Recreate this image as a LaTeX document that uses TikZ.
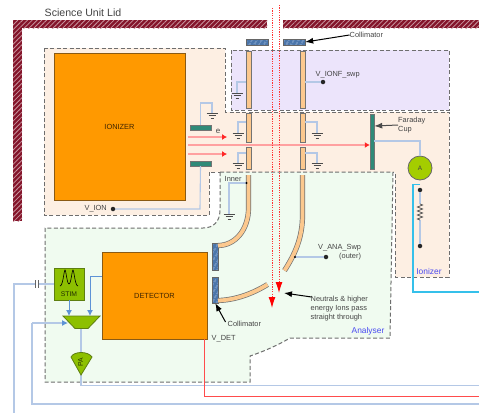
\documentclass[tikz,border=0pt]{standalone}
\usepackage{fontspec}
\setmainfont{Liberation Sans}
\usetikzlibrary{arrows.meta,patterns.meta,calc,decorations.pathmorphing}
\definecolor{lidred}{HTML}{84142A}
\definecolor{ionbg}{HTML}{FDEFE3}
\definecolor{filtbg}{HTML}{ECE4FB}
\definecolor{anabg}{HTML}{F0FBF0}
\definecolor{orangebox}{HTML}{FF9900}
\definecolor{orangeedge}{HTML}{8A5A14}
\definecolor{tealp}{HTML}{2F8A78}
\definecolor{tanp}{HTML}{FCC88E}
\definecolor{wire}{HTML}{B4C8E6}
\definecolor{wireb}{HTML}{5E93D6}
\definecolor{limeb}{HTML}{8DC000}
\definecolor{limed}{HTML}{5E7F10}
\definecolor{dashg}{HTML}{6E6E6E}
\definecolor{lab}{HTML}{444444}
\definecolor{labb}{HTML}{4A4AF0}
\definecolor{cyanw}{HTML}{35C0EA}
\definecolor{redl}{HTML}{FFA0A0}
\tikzset{
 x=1pt,y=-1pt,
 lidpart/.style={draw=none,minimum width=#1,inner sep=0pt,
   pattern={Lines[angle=45,distance=3.4pt,line width=.8pt]},pattern color=white!55!lidred,preaction={fill=lidred}},
 region/.style={draw=dashg,line width=1pt,dash pattern=on 4pt off 2.4pt},
 okbox/.style={draw=orangeedge,fill=orangebox,line width=.8pt,inner sep=0pt,font=\fontsize{7.4}{8}\selectfont,text=black!75!orangebox},
 plate/.style={draw=black!55,fill=tealp,line width=.4pt,inner sep=0pt},
 rod/.style={draw=black!55,fill=tanp,line width=.7pt,inner sep=0pt,minimum width=5pt},
 bent/.style={draw=black!55,line width=.7pt,double=tanp,double distance=3.8pt},
 coll/.style={draw=black!60,line width=.4pt,inner sep=0pt,preaction={fill=wireb!80!black},
   pattern={Lines[angle=60,distance=4pt,line width=.8pt]},pattern color=wire},
 wr/.style={draw=wire,line width=1.1pt},
 wra/.style={draw=wireb,line width=1pt,-{Latex[length=6pt,width=6pt]}},
 blk/.style={draw=black,line width=1pt,-{Latex[length=8pt,width=6pt]}},
 dotn/.style={circle,fill=black!85,inner sep=0pt,minimum size=4.5pt},
 tdot/.style={circle,fill=black,inner sep=0pt,minimum size=2.4pt},
 lbl/.style={text=lab,inner sep=0pt,font=\fontsize{7.4}{9}\selectfont,align=left},
 blbl/.style={text=labb,inner sep=0pt,font=\fontsize{8.4}{9}\selectfont},
 beam/.style={draw=red!80!white,line width=1pt,dash pattern=on 1.2pt off 1.2pt},
 rb/.style={draw=redl,line width=1.2pt},
 gnd/.pic={\draw[draw=black!70,line width=.6pt] (-5.5,0)--(5.5,0) (-3.5,2.5)--(3.5,2.5) (-1.5,5)--(1.5,5);},
}
\begin{document}
\begin{tikzpicture}
\useasboundingbox (0,0) rectangle (479,413);
\fill[white] (0,0) rectangle (479,413);
% lid
\node[lidpart=254pt,minimum height=8pt,anchor=north west] (lidA) at (13,20) {};
\node[lidpart=196pt,minimum height=8pt,anchor=north west] (lidB) at (283,20) {};
\node[lidpart=9pt,minimum height=201pt,anchor=north west] (lidC) at (13,20) {};
\node[text=lab,inner sep=0pt,font=\fontsize{10.6}{11}\selectfont] (lidT) at (83,12.5) {Science Unit Lid};
% regions
\path[region,fill=ionbg] (44,48)--(225,48)--(225,112)--(449,112)--(449,277)--(395,277)--(395,172)--(209,172)--(209,215)--(44,215)--cycle;
\path[region,fill=filtbg] (231,50) rectangle (449,110);
\path[region,fill=anabg] (220,172)--(220,210) .. controls (220,222) and (213,228) .. (203,228)--(45,228)--(45,382)--(250,382)--(250,356) .. controls (265,351) and (278,345) .. (290,338)--(390,338)--(393,172)--cycle;
% named places
\node[okbox,minimum width=131pt,minimum height=147pt] (ionizer) at (119.5,126.5) {IONIZER};
\node[okbox,minimum width=105pt,minimum height=87pt] (detector) at (154.5,295.5) {DETECTOR};
\node[plate,minimum width=21pt,minimum height=5pt] (pt) at (200.5,127.5) {};
\node[plate,minimum width=21pt,minimum height=5pt] (pb) at (200.5,163.5) {};
\node[plate,minimum width=4pt,minimum height=55pt] (far) at (372,141.5) {};
% rods
\node[rod,minimum height=57pt] (l1) at (248.5,79.5) {};
\node[rod,minimum height=57pt] (r1) at (302.5,79.5) {};
\node[rod,minimum height=29pt] (l2) at (248.5,127.5) {};
\node[rod,minimum height=29pt] (r2) at (302.5,127.5) {};
\node[rod,minimum height=22pt] (l3) at (248.5,158) {};
\node[rod,minimum height=22pt] (r3) at (302.5,158) {};
% collimators
\node[coll,minimum width=22pt,minimum height=6pt] (c1) at (257,42) {};
\node[coll,minimum width=22pt,minimum height=6pt] (c2) at (294,42) {};
\node[coll,minimum width=5.5pt,minimum height=27pt] (c3) at (215.3,256.5) {};
\node[coll,minimum width=5.5pt,minimum height=26pt] (c4) at (215.3,290) {};
% analyser electrodes
\coordinate (ai) at (248.5,175);
\coordinate (ao) at (302.5,175);
\draw[bent] (ai)--(248.5,208) .. controls (248.5,230) and (235,245.5) .. (218,245.5);
\draw[bent] (ao)--(302.5,215) .. controls (302.5,238) and (295,254) .. (284.5,270.5);
\draw[bent] (218,300.5) .. controls (235,300) and (252,294) .. (267.5,284.5);
% grounds and wires
\coordinate (g0) at (212,113); \coordinate (g1) at (237,93);
\coordinate (g2) at (238,133); \coordinate (g3) at (238,163);
\coordinate (g4) at (317,133); \coordinate (g5) at (317,163);
\coordinate (g6) at (229,214);
\draw[wr] (pt.north) |- (212,103) -- (g0);
\draw[wr] (pb.south) -- (200,209) -- (113,209);
\draw[wr] (l1.west |- 0,82) -| (g1);
\draw[wr] (l2.west |- 0,122) -| (g2);
\draw[wr] (l3.west |- 0,153) -| (g3);
\draw[wr] (r2.east |- 0,122) -| (g4);
\draw[wr] (r3.east |- 0,153) -| (g5);
\draw[wr] (246,183) -| (g6);
\foreach \g in {g0,g1,g2,g3,g4,g5,g6} \pic at (\g) {gnd};
% V_IONF
\node[dotn] (dF) at (323,82) {};
\draw[wr] (r1.east |- dF) -- (dF);
\node[lbl,anchor=west] (tF) at (315.5,74.5) {V\_IONF\_swp};
% beams
\coordinate (b1) at (188,137); \coordinate (b2) at (188,145); \coordinate (b3) at (188,154);
\coordinate (e1) at (227,137); \coordinate (e3) at (227,154);
\draw[rb,-{Latex[length=5pt,width=6pt,color=red!85!white]}] (b1)--(e1);
\draw[rb,-{Latex[length=5pt,width=6pt,color=red!85!white]}] (b3)--(e3);
\draw[rb,-{Latex[length=5pt,width=6pt,color=red!85!white]}] (b2)--(far.west |- b2);
\node[text=lab,inner sep=0pt,font=\fontsize{8}{8}\selectfont] (te) at (218,131) {e};
% vertical beams
\coordinate (v1) at (272,8); \coordinate (v1e) at (272,308);
\coordinate (v2) at (279,5); \coordinate (v2e) at (279,293);
\draw[beam,-{Latex[length=11pt,width=7pt,color=red,fill=red]}] (v1)--(v1e);
\draw[beam,-{Latex[length=11pt,width=7pt,color=red,fill=red]}] (v2)--(v2e);
% labels and pointers
\node[lbl,anchor=west] (tC1) at (349.5,35) {Collimator};
\draw[blk] (tC1.west)--(c2.east);
\node[lbl,anchor=north west] (tFar) at (398,116.5) {Faraday\\Cup};
\draw[draw=black!70,line width=1pt,-{Latex[length=8pt,width=6pt]}] (tFar.west |- 0,125)--(far.east |- 0,126);
% ammeter
\node[circle,draw=black!60,fill=limeb!80!yellow,line width=.8pt,minimum size=24pt,inner sep=0pt,text=lab,font=\fontsize{6.4}{7}\selectfont] (amm) at (420,168) {A};
\draw[wr] (far.east |- 0,141) -| (amm.north);
\node[dotn] (d1) at (420,190) {};
\node[dotn] (d2) at (420,246) {};
\coordinate (rs) at (420,204); \coordinate (re) at (420,220);
\draw[wr] (d1)--(rs) (re)--(d2);
\draw[draw=black!70,line width=.7pt,decorate,decoration={zigzag,segment length=4pt,amplitude=2.6pt}] (rs)--(re);
\coordinate (cy1) at (413,184.5); \coordinate (cy2) at (479,292);
\draw[cyanw,line width=1.5pt] (amm.south |- cy1) -- (cy1) |- (cy2);
\node[blbl] (tI) at (429,271) {Ionizer};
% V_ION
\node[dotn] (dI) at (113,209) {};
\node[lbl,anchor=east] (tI2) at (107,209) {V\_ION};
% analyser parts
\node[tdot] (dAi) at (246.5,183) {};
\node[lbl,anchor=west] (tIn) at (224.5,178.5) {Inner};
\node[dotn] (dA) at (326,257) {};
\draw[wr] (295,257)--(dA);
\node[tdot] (dA2) at (295,257) {};
\node[lbl,anchor=west] (tA1) at (318,247.5) {V\_ANA\_Swp};
\node[lbl,anchor=west] (tA2) at (339,256.5) {(outer)};
\node[lbl,anchor=north west] (tN) at (310.5,296) {Neutrals \& higher\\energy Ions pass\\straight through};
\coordinate (tipN) at (284,293);
\draw[blk] (tN.north west)++(1,1) -- (tipN);
\node[lbl,anchor=west] (tC2) at (227.5,324) {Collimator};
\draw[blk] (tC2.west) ++(-2,-2) -- (c4.south);
\node[lbl,anchor=west] (tD) at (211.5,339) {V\_DET};
\node[blbl] (tAn) at (368,331) {Analyser};
% bottom left electronics
\node[draw=limed,fill=limeb,line width=.8pt,inner sep=0pt,minimum width=30pt,minimum height=32pt] (stim) at (69,284) {};
\node[inner sep=0pt,text=black!75!limeb,font=\fontsize{6.8}{7}\selectfont] (tS) at (69,294) {STIM};
\draw[black,line width=.6pt] (60,286) .. controls (63,286) and (64,270) .. (65,270) .. controls (66,270) and (67,284) .. (69,284) .. controls (71,284) and (72,270) .. (73,270) .. controls (74,270) and (75,286) .. (78,286);
\coordinate (m1) at (69,316); \coordinate (m2) at (90,316); \coordinate (m3) at (68,323);
\coordinate (cl) at (37,284); \coordinate (ll) at (14,284); \coordinate (lb) at (14,413);
\draw[wr] (stim.west)--(38,284) (35.5,284)--(ll)--(lb);
\draw[draw=black!60,line width=.9pt] (35.5,280)--(35.5,288) (38,280)--(38,288);
\coordinate (in) at (32,323); \coordinate (bb) at (479,404);
\draw[wr] (bb) -| (in);
\coordinate (mo) at (81,328.5); \coordinate (po) at (81,352.5); \coordinate (pe) at (81,375); \coordinate (pr) at (479,385.5);
\draw[wr] (mo)--(po);
\draw[wr] (pe) |- (pr);
\path[draw=limed,fill=limeb,line width=.8pt] (63,316)--(100,316)--(88,328.5)--(75,328.5)--cycle;
\path[draw=limed,fill=limeb,line width=.8pt] (81,375)--(71,357) .. controls (74,351) and (88,351) .. (92,357)--cycle;
\node[inner sep=0pt,rotate=90,text=black!75!limeb,font=\fontsize{6.8}{7}\selectfont] (pa) at (80.5,362.5) {PA};
\draw[wra] (stim.south -| m1)--(m1);
\draw[wra] (detector.west |- 0,276) -| (m2);
\draw[wr,-{Latex[length=6pt,width=6pt,color=wireb]}] (in)--(m3);
\coordinate (rr) at (479,396);
\draw[draw=red!70!white,line width=1pt] (204,339) |- (rr);
\end{tikzpicture}
\end{document}
